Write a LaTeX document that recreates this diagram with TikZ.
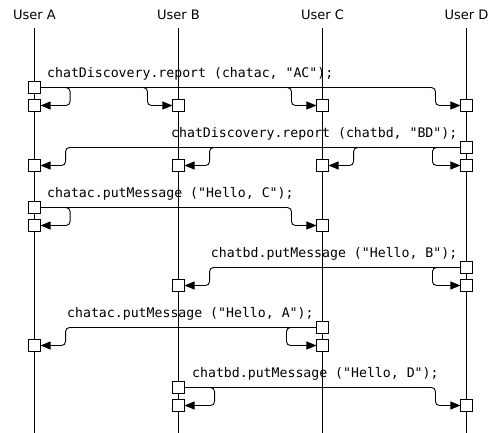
\documentclass[tikz,border=0pt]{standalone}
\usepackage{fontspec}
\setmainfont{DejaVu Sans}
\setmonofont{DejaVu Sans Mono}
\usetikzlibrary{positioning,arrows.meta,calc}

\begin{document}
\begin{tikzpicture}[x=1pt,y=-1pt,
    act/.style={draw,fill=white,line width=0.9pt,minimum size=11.2pt,inner sep=0pt},
    msg/.style={line width=0.9pt,rounded corners=4pt,-{Triangle[length=10pt,width=8pt]}},
    call/.style={inner sep=0pt,font=\ttfamily\fontsize{13.2}{15}\selectfont}]
  \useasboundingbox (0,0) rectangle (492,433);
  % --- lifelines, 144pt apart ---
  \foreach \u/\x in {A/34.5,B/178.5,C/322.5,D/466.5} {
    \node[anchor=base,font=\fontsize{13}{15}\selectfont] (user\u) at (\x,19.5) {User \u};
    \coordinate (end\u) at (\x,433);
    \draw[line width=0.9pt,shorten <=5pt] (user\u.south) -- (end\u);
  }
  % report (chatac, "AC") from A
  \node[act] (snd1) at (34.5,87.5) {};
  \foreach \u/\x in {A/34.5,B/178.5,C/322.5,D/466.5}
    \node[act] (rcv1\u) at (\x,105.5) {};
  \node[call,anchor=base west] at (47,77.5) {chatDiscovery.report (chatac, "AC");};
  \draw[msg] (snd1.east) -- ++(29.5,0) |- (rcv1A.east);
  \foreach \u in {B,C,D}
    \draw[msg] (snd1.east) -- ($(snd1.east -| rcv1\u.west)+(-25,0)$) |- (rcv1\u.west);
  % report (chatbd, "BD") from D
  \node[act] (snd2) at (466.5,147.5) {};
  \foreach \u/\x in {A/34.5,B/178.5,C/322.5,D/466.5}
    \node[act] (rcv2\u) at (\x,165.5) {};
  \node[call,anchor=base east] at (457.5,137.5) {chatDiscovery.report (chatbd, "BD");};
  \draw[msg] (snd2.west) -- ++(-28,0) |- (rcv2D.west);
  \foreach \u in {A,B,C}
    \draw[msg] (snd2.west) -- ($(snd2.west -| rcv2\u.east)+(25,0)$) |- (rcv2\u.east);
  % putMessage ("Hello, C") from A
  \node[act] (snd3) at (34.5,207.5) {};
  \node[act] (rcv3A) at (34.5,225.5) {};
  \node[act] (rcv3C) at (322.5,225.5) {};
  \node[call,anchor=base west] at (47,197.5) {chatac.putMessage ("Hello, C");};
  \draw[msg] (snd3.east) -- ++(29.5,0) |- (rcv3A.east);
  \draw[msg] (snd3.east) -- ($(snd3.east -| rcv3C.west)+(-25,0)$) |- (rcv3C.west);
  % putMessage ("Hello, B") from D
  \node[act] (snd4) at (466.5,267.5) {};
  \node[act] (rcv4B) at (178.5,285.5) {};
  \node[act] (rcv4D) at (466.5,285.5) {};
  \node[call,anchor=base east] at (457.5,257.5) {chatbd.putMessage ("Hello, B");};
  \draw[msg] (snd4.west) -- ++(-28,0) |- (rcv4D.west);
  \draw[msg] (snd4.west) -- ($(snd4.west -| rcv4B.east)+(25,0)$) |- (rcv4B.east);
  % putMessage ("Hello, A") from C
  \node[act] (snd5) at (322.5,327.5) {};
  \node[act] (rcv5A) at (34.5,345.5) {};
  \node[act] (rcv5C) at (322.5,345.5) {};
  \node[call,anchor=base west] at (67,317.5) {chatac.putMessage ("Hello, A");};
  \draw[msg] (snd5.west) -- ++(-30,0) |- (rcv5C.west);
  \draw[msg] (snd5.west) -- ($(snd5.west -| rcv5A.east)+(25,0)$) |- (rcv5A.east);
  % putMessage ("Hello, D") from B
  \node[act] (snd6) at (178.5,387.5) {};
  \node[act] (rcv6B) at (178.5,405.5) {};
  \node[act] (rcv6D) at (466.5,405.5) {};
  \node[call,anchor=base west] at (192,377.5) {chatbd.putMessage ("Hello, D");};
  \draw[msg] (snd6.east) -- ++(30,0) |- (rcv6B.east);
  \draw[msg] (snd6.east) -- ($(snd6.east -| rcv6D.west)+(-25,0)$) |- (rcv6D.west);
\end{tikzpicture}
\end{document}
